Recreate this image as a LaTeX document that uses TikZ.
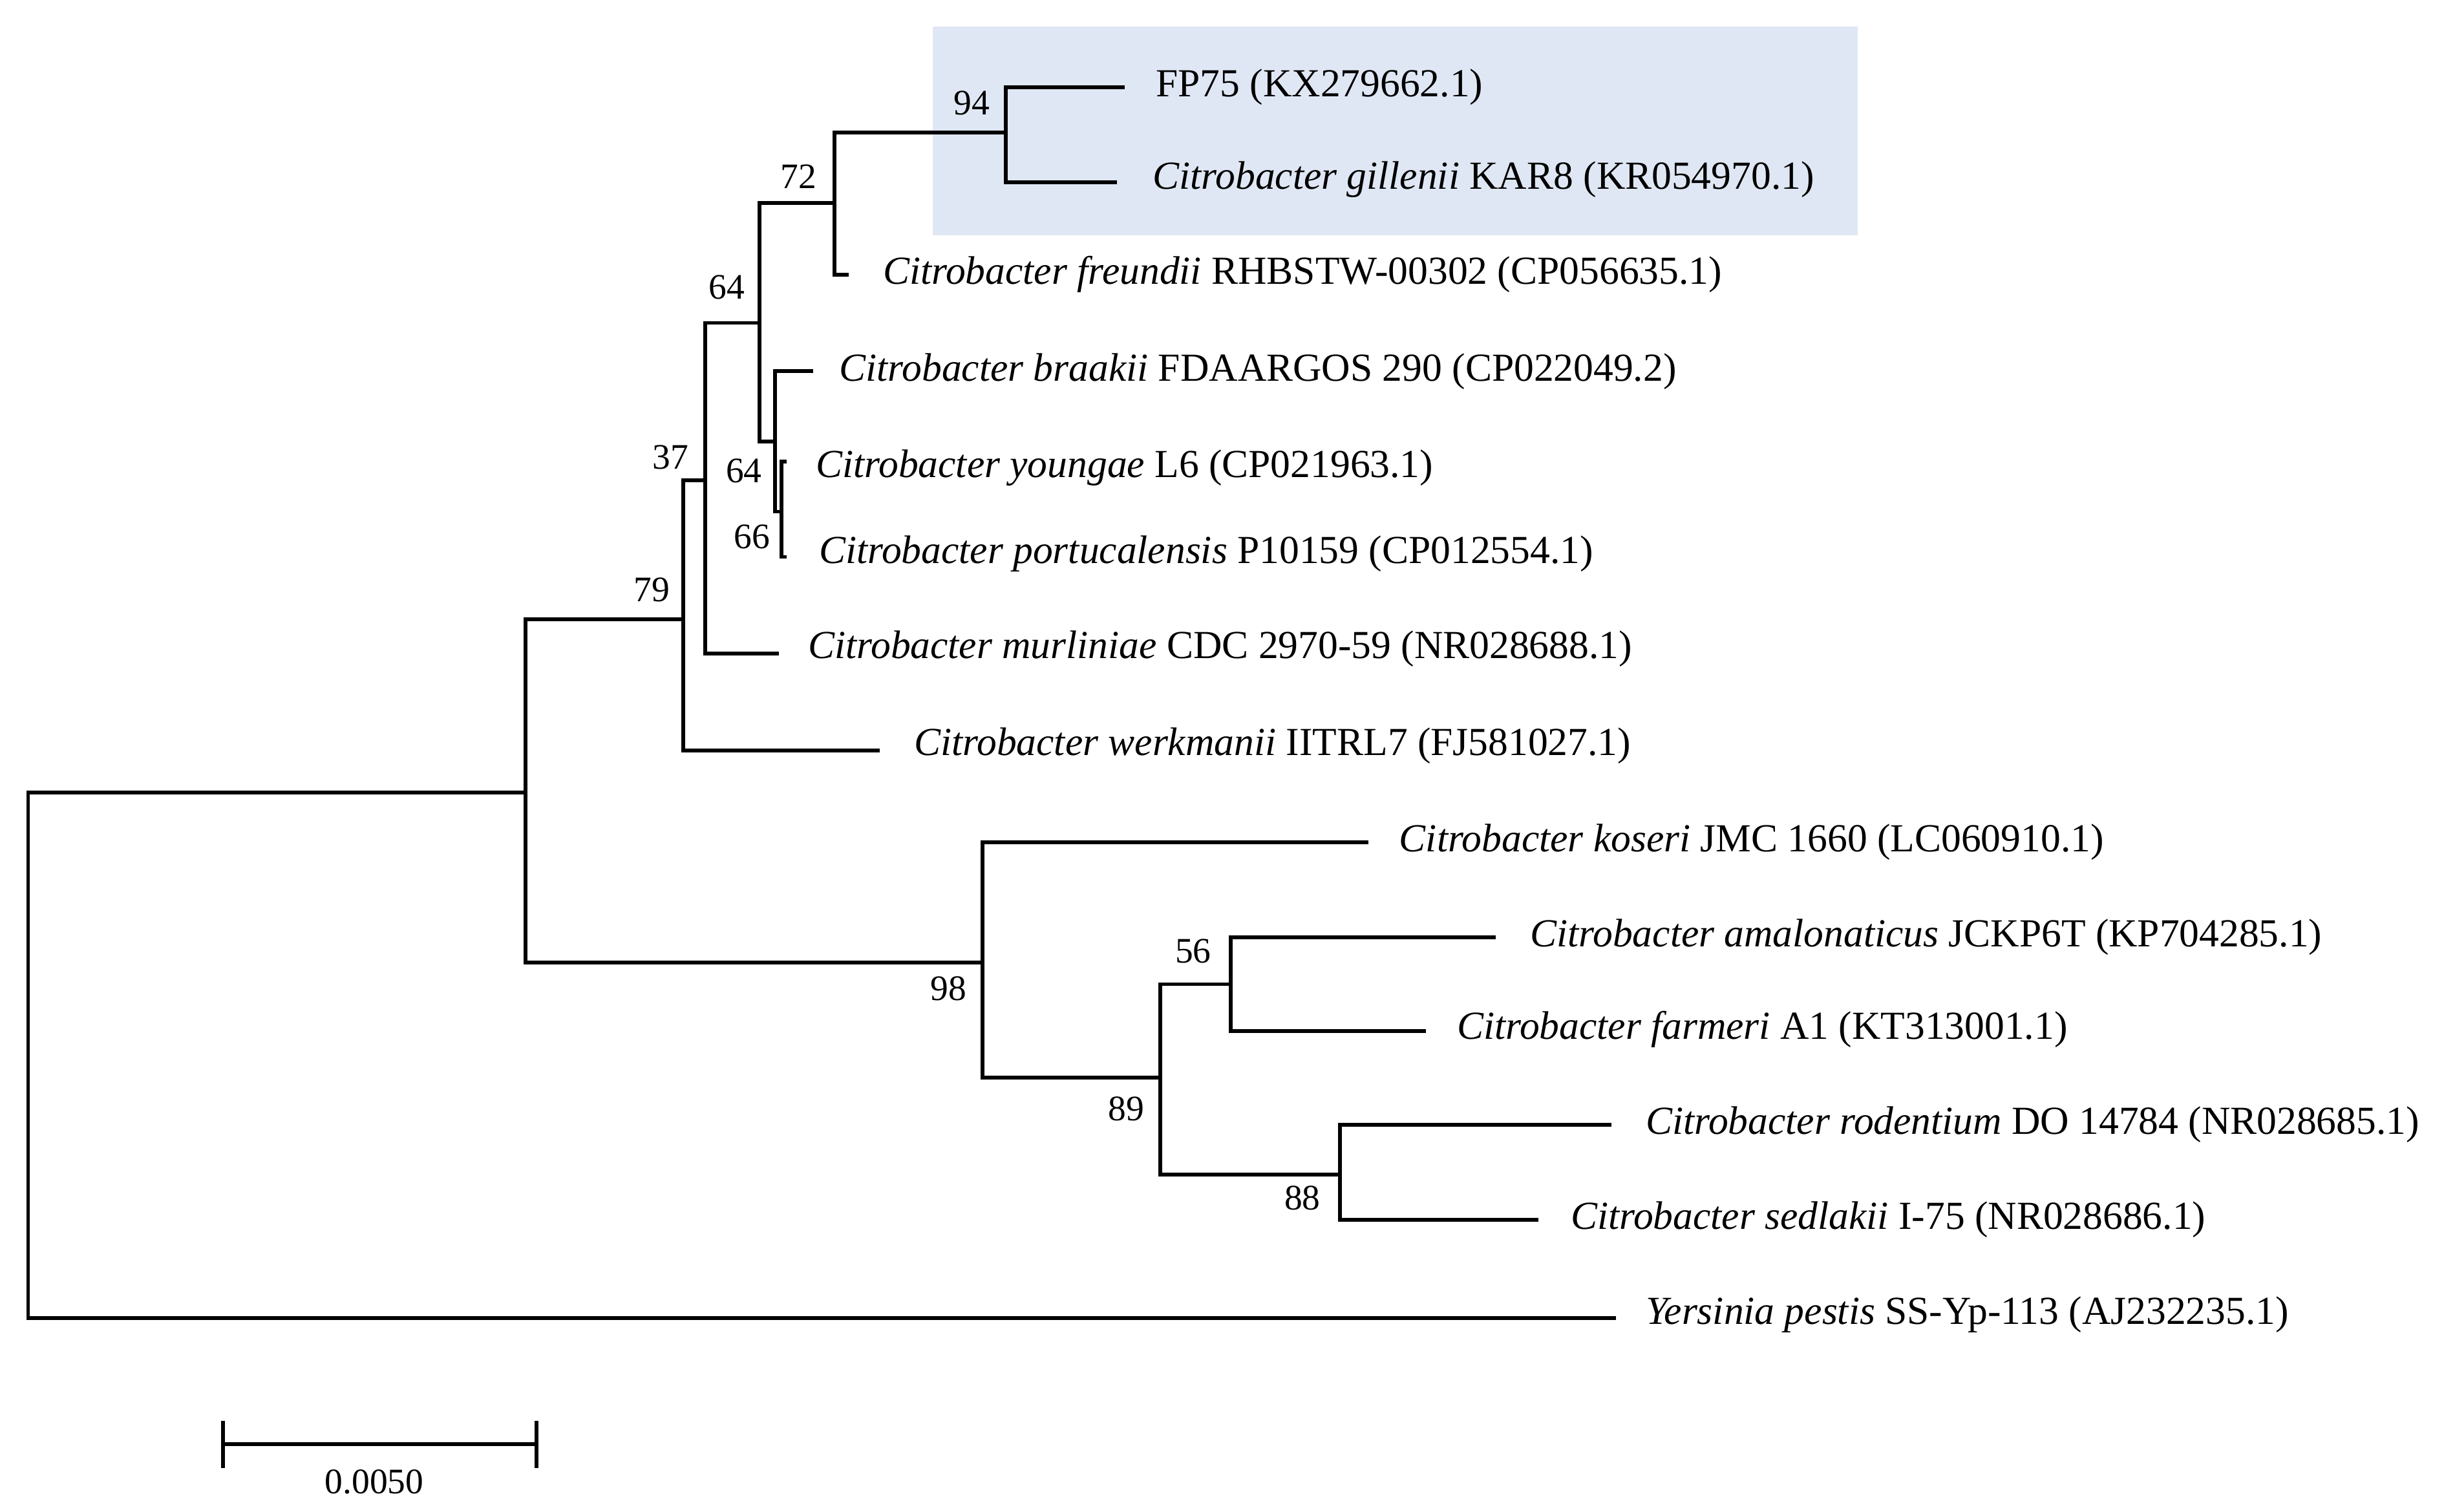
\documentclass[tikz,border=0pt]{standalone}
\usepackage{fontspec}
\setmainfont{Liberation Serif}
\definecolor{boxblue}{RGB}{224,231,244}
\begin{document}
\begin{tikzpicture}[x=1pt,y=-1pt,
  br/.style={line width=2.4pt,line cap=rect},
  tx/.style={anchor=west,inner sep=0pt,font=\fontsize{25.5}{28}\selectfont},
  bs/.style={inner sep=0pt,font=\fontsize{23}{26}\selectfont}]
\useasboundingbox (0,0) rectangle (1567,969);
\fill[boxblue] (598,17) rectangle (1191,151);
% nodes
\coordinate (R) at (18,508); \coordinate (R2) at (18,845);
\coordinate (A1) at (337,397); \coordinate (A2) at (337,617);
\coordinate (B1) at (438,308); \coordinate (B2) at (438,481);
\coordinate (C1) at (452,207); \coordinate (C2) at (452,419);
\coordinate (D1) at (487,130); \coordinate (D2) at (487,283);
\coordinate (E1) at (535,85);  \coordinate (E2) at (535,176);
\coordinate (F1) at (645,56);  \coordinate (F2) at (645,117);
\coordinate (G1) at (497,238); \coordinate (G2) at (497,328);
\coordinate (H1) at (501,296); \coordinate (H2) at (501,357);
\coordinate (K1) at (630,540); \coordinate (K2) at (630,691);
\coordinate (L1) at (744,631); \coordinate (L2) at (744,753);
\coordinate (M1) at (789,601); \coordinate (M2) at (789,661);
\coordinate (N1) at (859,721); \coordinate (N2) at (859,782);
% tips
\coordinate (tFP) at (720,56); \coordinate (tGi) at (715,117);
\coordinate (tFr) at (543,176); \coordinate (tBr) at (520,238);
\coordinate (tYo) at (503,296); \coordinate (tPo) at (503,357);
\coordinate (tMu) at (498,419); \coordinate (tWe) at (563,481);
\coordinate (tKo) at (876,540); \coordinate (tAm) at (958,601);
\coordinate (tFa) at (913,661); \coordinate (tRo) at (1032,721);
\coordinate (tSe) at (985,782); \coordinate (tYe) at (1035,845);
% branches
\draw[br] (R) -- (R2);
\draw[br] (R) -- (R -| A1); \draw[br] (R2) -- (tYe);
\draw[br] (A1) -- (A2); \draw[br] (A1) -- (A1 -| B1); \draw[br] (A2) -- (A2 -| K1);
\draw[br] (B1) -- (B2); \draw[br] (B1) -- (B1 -| C1); \draw[br] (B2) -- (tWe);
\draw[br] (C1) -- (C2); \draw[br] (C1) -- (C1 -| D1); \draw[br] (C2) -- (tMu);
\draw[br] (D1) -- (D2); \draw[br] (D1) -- (D1 -| E1); \draw[br] (D2) -- (D2 -| G1);
\draw[br] (E1) -- (E2); \draw[br] (E1) -- (E1 -| F1); \draw[br] (E2) -- (tFr);
\draw[br] (F1) -- (F2); \draw[br] (F1) -- (tFP); \draw[br] (F2) -- (tGi);
\draw[br] (G1) -- (G2); \draw[br] (G1) -- (tBr); \draw[br] (G2) -- (G2 -| H1);
\draw[br] (H1) -- (H2); \draw[br] (H1) -- (tYo); \draw[br] (H2) -- (tPo);
\draw[br] (K1) -- (K2); \draw[br] (K1) -- (tKo); \draw[br] (K2) -- (K2 -| L1);
\draw[br] (L1) -- (L2); \draw[br] (L1) -- (L1 -| M1); \draw[br] (L2) -- (L2 -| N1);
\draw[br] (M1) -- (M2); \draw[br] (M1) -- (tAm); \draw[br] (M2) -- (tFa);
\draw[br] (N1) -- (N2); \draw[br] (N1) -- (tRo); \draw[br] (N2) -- (tSe);
% labels
\node[tx] (lFP) at (741,56) {FP75 (KX279662.1)};
\node[tx] (lGi) at (739,115) {\textit{Citrobacter gillenii} KAR8 (KR054970.1)};
\node[tx] (lFr) at (566,176) {\textit{Citrobacter freundii} RHBSTW-00302 (CP056635.1)};
\node[tx] (lBr) at (538,238) {\textit{Citrobacter braakii} FDAARGOS 290 (CP022049.2)};
\node[tx] (lYo) at (523,300) {\textit{Citrobacter youngae} L6 (CP021963.1)};
\node[tx] (lPo) at (525,355) {\textit{Citrobacter portucalensis} P10159 (CP012554.1)};
\node[tx] (lMu) at (518,416) {\textit{Citrobacter murliniae} CDC 2970-59 (NR028688.1)};
\node[tx] (lWe) at (586,478) {\textit{Citrobacter werkmanii} IITRL7 (FJ581027.1)};
\node[tx] (lKo) at (897,540) {\textit{Citrobacter koseri} JMC 1660 (LC060910.1)};
\node[tx] (lAm) at (981,601) {\textit{Citrobacter amalonaticus} JCKP6T (KP704285.1)};
\node[tx] (lFa) at (934,660) {\textit{Citrobacter farmeri} A1 (KT313001.1)};
\node[tx] (lRo) at (1055,721) {\textit{Citrobacter rodentium} DO 14784 (NR028685.1)};
\node[tx] (lSe) at (1007,782) {\textit{Citrobacter sedlakii} I-75 (NR028686.1)};
\node[tx] (lYe) at (1055,843) {\textit{Yersinia pestis} SS-Yp-113 (AJ232235.1)};
% bootstrap
\node[bs] (b94) at (623,66) {94};
\node[bs] (b72) at (512,113) {72};
\node[bs] (b64a) at (466,184) {64};
\node[bs] (b37) at (430,293) {37};
\node[bs] (b64b) at (477,302) {64};
\node[bs] (b66) at (482,344) {66};
\node[bs] (b79) at (418,378) {79};
\node[bs] (b98) at (608,634) {98};
\node[bs] (b56) at (765,610) {56};
\node[bs] (b89) at (722,711) {89};
\node[bs] (b88) at (835,768) {88};
% scale bar
\coordinate (s1) at (143,926); \coordinate (s2) at (344,926);
\draw[br] (s1) -- (s2);
\draw[br] (143,912) -- (143,940); \draw[br] (344,912) -- (344,940);
\node[bs] (sl) at (240,950) {0.0050};
\end{tikzpicture}
\end{document}
